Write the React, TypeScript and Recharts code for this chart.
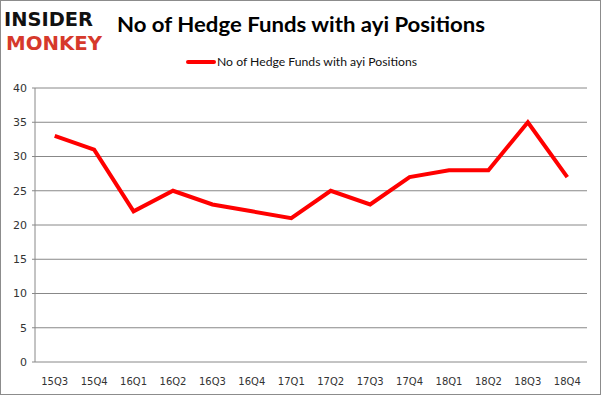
import { LineChart, Line, XAxis, YAxis, CartesianGrid } from 'recharts'

const quarters = ['15Q3', '15Q4', '16Q1', '16Q2', '16Q3', '16Q4', '17Q1', '17Q2', '17Q3', '17Q4', '18Q1', '18Q2', '18Q3', '18Q4']
const funds = [33, 31, 22, 25, 23, 22, 21, 25, 23, 27, 28, 28, 35, 27]
const yTicks = [0, 5, 10, 15, 20, 25, 30, 35, 40]
const seriesName = 'No of Hedge Funds with ayi Positions'

const data = quarters.map((q, i) => ({ x: i, quarter: q, value: funds[i] }))
const centerTicks = quarters.map((_, i) => i)
const edgeTicks = [...quarters.map((_, i) => i - 0.5), quarters.length - 0.5]

export default function App() {
  return (
    <div style={{ position: 'fixed', left: 0, top: 0, width: 601, height: 395, background: '#fff', border: '1px solid #8c8c8c', boxSizing: 'border-box', overflow: 'hidden' }}>
      <LineChart width={601} height={395} data={data} margin={{ top: 88, right: 14, bottom: 0, left: 0 }} style={{ position: 'absolute', left: -1, top: -1 }}>
        <CartesianGrid vertical={false} stroke="#888" strokeWidth={1} />
        <YAxis
          domain={[0, 40]}
          ticks={yTicks}
          width={35}
          axisLine={{ stroke: '#888' }}
          tickLine={{ stroke: '#888' }}
          tickSize={3}
          tickMargin={5}
          tick={{ fill: '#333', fontSize: 11, fontFamily: 'DejaVu Sans' }}
        />
        <XAxis
          xAxisId="edges"
          dataKey="x"
          type="number"
          domain={[-0.5, quarters.length - 0.5]}
          ticks={edgeTicks}
          height={0}
          axisLine={{ stroke: '#888' }}
          tickLine={{ stroke: '#888' }}
          tickSize={5}
          tick={false}
        />
        <XAxis
          dataKey="x"
          type="number"
          domain={[-0.5, quarters.length - 0.5]}
          ticks={centerTicks}
          tickFormatter={(v) => quarters[v]}
          height={33}
          axisLine={false}
          tickLine={false}
          tickMargin={10}
          tick={{ fill: '#333', fontSize: 10, fontFamily: 'DejaVu Sans' }}
        />
        <Line type="linear" dataKey="value" stroke="#ff0000" strokeWidth={4} dot={false} isAnimationActive={false} />
      </LineChart>
      {/* logo, title and legend */}
      <svg width={601} height={80} style={{ position: 'absolute', left: -1, top: -1 }}>
        <text x={4} y={26} fontFamily="DejaVu Sans" fontWeight={900} fontSize={20} fill="#111" textLength={89} lengthAdjust="spacingAndGlyphs">INSIDER</text>
        <text x={6} y={50} fontFamily="DejaVu Sans" fontWeight={900} fontSize={19} fill="#d6392b" textLength={96} lengthAdjust="spacingAndGlyphs">MONKEY</text>
        <text x={117} y={32} fontFamily="Lato" fontWeight={700} fontSize={21} fill="#000" textLength={368} lengthAdjust="spacingAndGlyphs">{seriesName}</text>
        <line x1={188} y1={62} x2={214} y2={62} stroke="#ff0000" strokeWidth={4} strokeLinecap="round" />
        <text x={217} y={66} fontFamily="Lato" fontSize={11.5} fill="#111" textLength={200} lengthAdjust="spacingAndGlyphs">{seriesName}</text>
      </svg>
    </div>
  )
}
